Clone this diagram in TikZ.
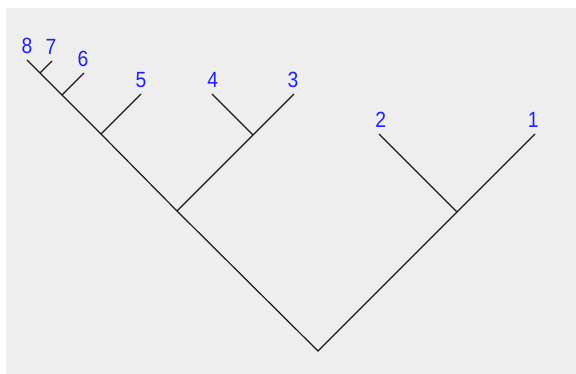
\documentclass[tikz,border=0pt]{standalone}
\usepackage{fontspec}
\setmainfont{Liberation Sans}
\usetikzlibrary{positioning}
\definecolor{bggray}{HTML}{EEEEEE}
\definecolor{labblue}{HTML}{1E1EFF}
\tikzset{
  branch/.style={draw=black!90, line width=1.2pt},
  lab/.style={text=labblue, inner sep=0pt, font=\fontsize{22}{26}\selectfont, xscale=0.88},
}
\begin{document}
\begin{tikzpicture}[x=1pt,y=-1pt]
\useasboundingbox (0,0) rectangle (576,374);
\fill[white] (0,0) rectangle (576,374);
\fill[bggray] (6,8) rectangle (576,374);
% junctions
\coordinate (r) at (318,351);
\coordinate (a) at (177,211);
\coordinate (b) at (457,212);
\coordinate (c) at (253,135);
\coordinate (d) at (101,134);
\coordinate (e) at (62,95);
\coordinate (f) at (40,73);
% leaf tips
\coordinate (t1) at (535,134);
\coordinate (t2) at (379,134);
\coordinate (t3) at (294,94);
\coordinate (t4) at (212,94);
\coordinate (t5) at (141,94);
\coordinate (t6) at (84,73);
\coordinate (t7) at (52,61);
\coordinate (t8) at (27,60);
% labels
\node[lab, above=6pt of t1, xshift=-2pt] (n1) {1};
\node[lab, above=6pt of t2, xshift=2pt] (n2) {2};
\node[lab, above=6pt of t3, xshift=-1pt] (n3) {3};
\node[lab, above=6pt of t4, xshift=1pt] (n4) {4};
\node[lab, above=6pt of t5] (n5) {5};
\node[lab, above=6.5pt of t6, xshift=-1pt] (n6) {6};
\node[lab, above=6.5pt of t7, xshift=-1pt] (n7) {7};
\node[lab, above=6.5pt of t8] (n8) {8};
% branches
\draw[branch] (t8) -- (f) -- (e) -- (d) -- (a) -- (r) -- (b) -- (t1);
\draw[branch] (b) -- (t2);
\draw[branch] (a) -- (c) -- (t3);
\draw[branch] (c) -- (t4);
\draw[branch] (d) -- (t5);
\draw[branch] (e) -- (t6);
\draw[branch] (f) -- (t7);
\end{tikzpicture}
\end{document}
